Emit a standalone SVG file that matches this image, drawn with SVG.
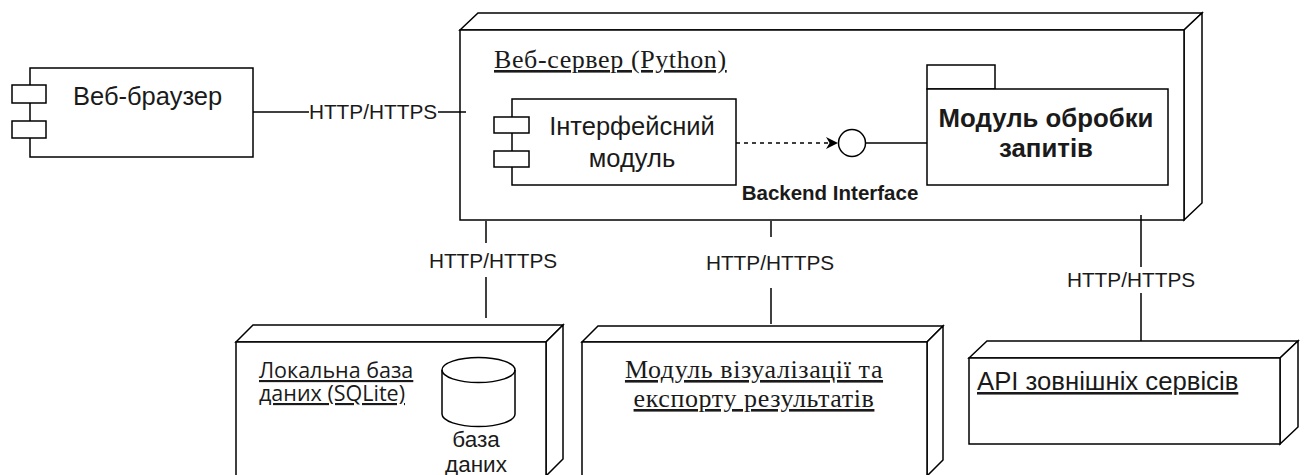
<svg xmlns="http://www.w3.org/2000/svg" width="1305" height="475" viewBox="0 0 1305 475">
<style>
.s{fill:#fff;stroke:#000;stroke-width:1.5;stroke-linejoin:miter}
.ln{fill:none;stroke:#000;stroke-width:1.5}
.sans{font-family:"Liberation Sans",Arial,sans-serif;fill:#1a1a1a}
.os{font-family:"Open Sans","Liberation Sans",sans-serif;fill:#1a1a1a}
.ser{font-family:"Liberation Serif","Times New Roman",serif;fill:#1a1a1a;font-size:26px;letter-spacing:0.6px}
.lbl{font-size:20.8px;text-anchor:middle}
</style>
<defs>
<marker id="ah" viewBox="0 0 10 10" refX="10" refY="5" markerWidth="14" markerHeight="12" markerUnits="userSpaceOnUse" orient="auto">
<path d="M0,0 L10,5 L0,10 L3,5 Z" fill="#000"/>
</marker>
</defs>
<rect width="1305" height="475" fill="#fff"/>

<g id="browser">
<rect class="s" x="30" y="68" width="223" height="89"/>
<rect class="s" x="12" y="85" width="34" height="18"/>
<rect class="s" x="12" y="121" width="34" height="17"/>
<text class="sans" x="73" y="105" font-size="25.5">Веб-браузер</text>
</g>

<g id="webserver">
<polygon class="s" points="460,30 478,13 1202,13 1184,30"/>
<polygon class="s" points="1184,30 1202,13 1202,203 1184,220"/>
<rect class="s" x="460" y="30" width="724" height="190"/>
<text class="ser" x="494" y="68" text-decoration="underline">Веб-сервер (Python)</text>
</g>

<g id="interface-module">
<rect class="s" x="512" y="99" width="224" height="86"/>
<rect class="s" x="494" y="117" width="35" height="16"/>
<rect class="s" x="494" y="151" width="35" height="16"/>
<text class="sans" x="632" y="135" font-size="25.5" text-anchor="middle">Інтерфейсний</text>
<text class="sans" x="632" y="167" font-size="25.5" text-anchor="middle">модуль</text>
</g>

<g id="backend-interface">
<circle class="s" cx="852" cy="143" r="13.5"/>
<text class="sans" x="830" y="200" font-size="20.5" font-weight="bold" text-anchor="middle">Backend Interface</text>
</g>

<g id="request-module">
<rect class="s" x="927" y="65" width="68" height="24"/>
<rect class="s" x="927" y="89" width="241" height="96"/>
<text class="sans" x="1046" y="127" font-size="25.8" font-weight="bold" text-anchor="middle">Модуль обробки</text>
<text class="sans" x="1046" y="157" font-size="25.8" font-weight="bold" text-anchor="middle">запитів</text>
</g>

<g id="database">
<polygon class="s" points="236,342 253,325 563,325 546,342"/>
<polygon class="s" points="546,342 563,325 563,459 546,476"/>
<rect class="s" x="236" y="342" width="310" height="134"/>
<text class="os" x="259" y="378" font-size="21.5" text-decoration="underline">Локальна база</text>
<text class="os" x="259" y="401" font-size="21.5" text-decoration="underline">даних (SQLite)</text>
<path class="s" d="M442,370 A36.5,12.5 0 0 1 515,370 L515,414 A36.5,12.5 0 0 1 442,414 Z"/>
<path class="ln" d="M442,370 A36.5,12.5 0 0 0 515,370"/>
<text class="sans" x="476" y="447" font-size="22.5" text-anchor="middle">база</text>
<text class="sans" x="476" y="472" font-size="22.5" text-anchor="middle">даних</text>
</g>

<g id="visualization">
<polygon class="s" points="582,342 598,326 943,326 927,342"/>
<polygon class="s" points="927,342 943,326 943,460 927,476"/>
<rect class="s" x="582" y="342" width="345" height="134"/>
<text class="ser" x="754" y="378" text-anchor="middle" text-decoration="underline">Модуль візуалізації та</text>
<text class="ser" x="754" y="407" text-anchor="middle" text-decoration="underline">експорту результатів</text>
</g>

<g id="external-api">
<polygon class="s" points="969,358 987,341 1298,341 1280,358"/>
<polygon class="s" points="1280,358 1298,341 1298,427 1280,444"/>
<rect class="s" x="969" y="358" width="311" height="86"/>
<text class="sans" x="977" y="390" font-size="25.7" text-decoration="underline">API зовнішніх сервісів</text>
</g>

<g id="connectors">
<line class="ln" x1="253" y1="112" x2="466" y2="112"/>
<rect x="309" y="101" width="129" height="22" fill="#fff"/>
<text class="sans lbl" x="373" y="119">HTTP/HTTPS</text>
<line class="ln" x1="736" y1="143" x2="838" y2="143" stroke-dasharray="4 4" marker-end="url(#ah)"/>
<line class="ln" x1="866" y1="143" x2="927" y2="143"/>
<line class="ln" x1="486" y1="221" x2="486" y2="243"/>
<line class="ln" x1="486" y1="277" x2="486" y2="318"/>
<text class="sans lbl" x="493" y="268">HTTP/HTTPS</text>
<line class="ln" x1="771" y1="221" x2="771" y2="237"/>
<line class="ln" x1="771" y1="288" x2="771" y2="324"/>
<text class="sans lbl" x="770" y="270">HTTP/HTTPS</text>
<line class="ln" x1="1141" y1="215" x2="1141" y2="267"/>
<line class="ln" x1="1141" y1="293" x2="1141" y2="341"/>
<text class="sans lbl" x="1131" y="287">HTTP/HTTPS</text>
</g>
</svg>
